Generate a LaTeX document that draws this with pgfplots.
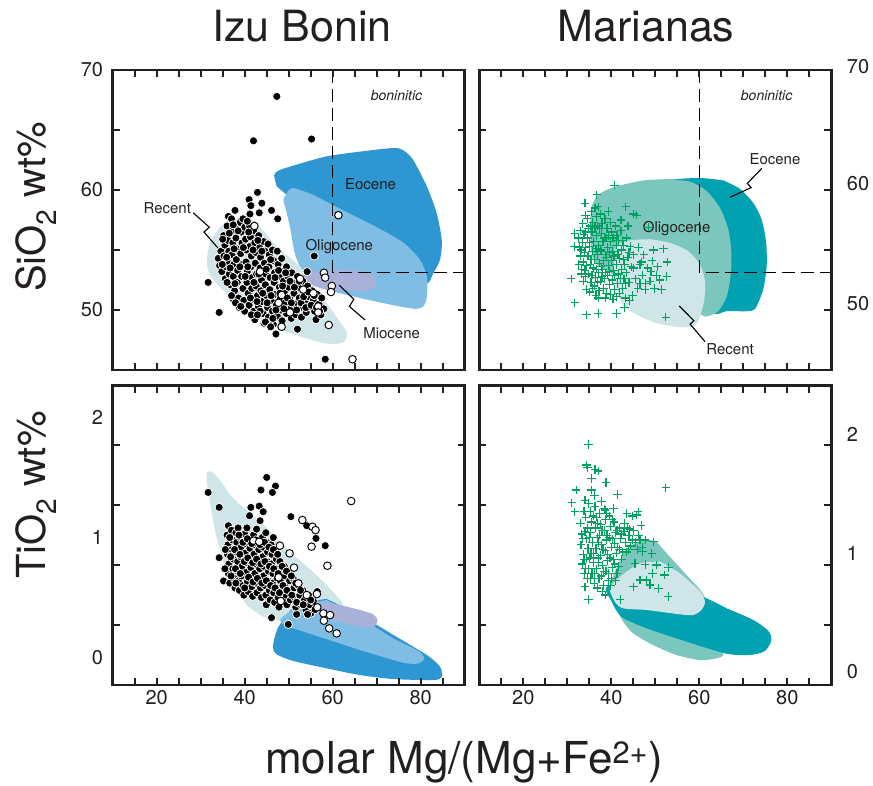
\documentclass[border=0pt]{standalone}
\usepackage{fontspec}
\setmainfont{TeX Gyre Heros}
\usepackage{pgfplots}
\pgfplotsset{compat=1.18}
\definecolor{recentc}{RGB}{207,229,232}
\definecolor{ibeoc}{RGB}{46,151,209}
\definecolor{iboligo}{RGB}{127,189,228}
\definecolor{miocc}{RGB}{169,177,217}
\definecolor{mreoc}{RGB}{0,162,177}
\definecolor{mroligo}{RGB}{124,199,189}
\definecolor{crossc}{RGB}{0,160,96}
\definecolor{txt}{RGB}{35,31,32}
\newcommand\tickfont{\fontsize{20}{20}\selectfont}
\newcommand\annfont{\fontsize{15}{15}\selectfont}
\newcommand\bonfont{\fontsize{14}{14}\selectfont\itshape}
\pgfplotsset{
  panel/.style={scale only axis, width=352pt, anchor=north west,
    xmin=10, xmax=90, axis on top, clip=false,
    axis line style={line width=2.6pt, color=txt},
    tick align=inside, major tick length=7pt,
    tick style={line width=1.8pt, color=txt},
    xtick={15,20,...,85},
    tick label style={font=\tickfont, text=txt},
    /pgf/number format/assume math mode=true},
  toppanel/.style={panel, height=300pt, ymin=45, ymax=70, xticklabels={},
    ytick={50,55,60,65,70}},
  botpanel/.style={panel, height=299.5pt, ymin=-0.229, ymax=2.267,
    xticklabels={,20,,,,40,,,,60,,,,80,},
    xticklabel style={inner sep=0pt, yshift=-5pt},
    ytick={0.27,0.77,1.27,1.77}, yticklabels={}},
  region/.style={draw=none, fill=#1, smooth, tension=0.45},
  leader/.style={black, line width=1.1pt, mark=none},
  fdot/.style={only marks, color=black, mark=*, mark size=4.1pt, mark options={fill=black, draw=white, line width=0.75pt}},
  odot/.style={only marks, color=black, mark=*, mark size=3.8pt, mark options={fill=white, draw=black, line width=0.95pt}},
  crs/.style={only marks, color=crossc, mark=+, mark size=4.2pt, mark options={draw=crossc, line width=1.2pt}},
  bline/.style={black, line width=1.1pt, dash pattern=on 13pt off 6pt, mark=none},
}
\begin{document}
\begin{tikzpicture}
\useasboundingbox (0,0) rectangle (873pt,-785pt);
\node[font=\fontsize{43}{43}\selectfont, text=txt, anchor=base] at (302pt,-41pt) {Izu Bonin};
\node[font=\fontsize{43}{43}\selectfont, text=txt, anchor=base] at (646pt,-41pt) {Marianas};
\node[font=\fontsize{40}{40}\selectfont, text=txt, anchor=base, rotate=90] at (45pt,-207pt) {SiO\textsubscript{2} wt\%};
\node[font=\fontsize{40}{40}\selectfont, text=txt, anchor=base, rotate=90] at (45pt,-495pt) {TiO\textsubscript{2} wt\%};
\node[font=\fontsize{44}{44}\selectfont, text=txt, anchor=base] at (464pt,-773pt) {molar Mg/(Mg+Fe\textsuperscript{2+})};

% ---------------- top left: Izu Bonin SiO2
\begin{axis}[toppanel, at={(112.7pt,-70pt)}, yticklabels={50,,60,,70},
  yticklabel style={inner sep=0pt, xshift=-9.5pt}]
\addplot[region=ibeoc] coordinates {(47.3,60.3)(46.7,61.25)(48.0,61.67)(52.6,62.2)(58.6,62.8)(66.2,63.2)(73.8,63.5)(76.1,63.3)(78.3,62.5)(81.4,60.3)(83.6,58.1)(84.8,55.8)(84.4,54.2)(82.9,53.1)(81.0,52.2)(73.8,54.2)(58.6,57.8)(51.1,59.2)(47.3,60.3)} -- cycle;
\addplot[region=iboligo] coordinates {(55.6,59.6)(62.4,58.3)(70.0,56.9)(76.1,55.6)(79.8,54.2)(81.4,52.8)(81.4,51.1)(80.6,50.3)(78.7,50.1)(73.8,50.4)(66.2,51.0)(58.6,51.7)(54.8,52.4)(53.0,53.3)(51.4,54.7)(50.3,56.9)(49.2,58.6)(48.8,59.2)(50.3,60.1)(51.8,60.1)(55.6,59.6)} -- cycle;
\addplot[region=recentc] coordinates {(38.9,57.7)(42.0,57.5)(47.3,55.3)(52.6,53.6)(57.1,51.4)(60.9,49.4)(63.2,48.1)(62.4,47.3)(58.6,47.2)(52.6,47.8)(46.5,48.6)(40.5,50.0)(35.9,51.4)(32.9,52.5)(31.7,53.3)(31.4,54.2)(32.1,55.6)(34.4,56.9)(36.7,57.6)(38.9,57.7)} -- cycle;
\addplot[region=miocc] coordinates {(57.1,53.3)(64.7,53.3)(68.5,53.06)(69.8,52.5)(69.2,51.8)(67.0,51.6)(58.6,51.7)(54.8,52.2)(53.3,52.6)(53.7,53.06)(57.1,53.3)} -- cycle;
\addplot[bline] coordinates {(60,70)(60,53.1)(90,53.1)};
\addplot[leader] coordinates {(28.3,58.1)(31.95,56.9)(30.75,56.5)(34.55,54.9)};
\addplot[leader] coordinates {(61.5,52.06)(64.8,50.9)(63.8,50.3)(67.35,49.17)};
\node[font=\bonfont, text=txt] at (axis cs:74.5,67.9) {boninitic};
\node[font=\annfont, text=txt] at (axis cs:68.6,60.5) {Eocene};
\node[font=\annfont, text=txt] at (axis cs:61.5,55.3) {Oligocene};
\node[font=\annfont, text=txt] at (axis cs:73.4,48.1) {Miocene};
\node[font=\annfont, text=txt] at (axis cs:22.4,58.5) {Recent};
\addplot[fdot] coordinates {
(47.3,67.8)(42.0,64.1)(55.2,64.25)(42.9,59.8)(43.9,58.9)(41.0,59.2)(41.4,58.7)(46.1,58.3)(47.5,57.6)(43.3,58.1)(41.2,58.0)(55.8,54.5)(54.2,53.2)(31.7,52.3)(34.2,49.8)(37.4,50.9)(52.0,48.4)(58.3,45.9)(47.1,48.0)(37.8,58.3)(36.3,57.8)
(34.0,54.3)(34.3,53.7)(34.6,54.9)(34.8,53.2)
(35.2,56.2)(35.5,55.4)(35.3,54.5)(35.8,53.6)(35.6,52.6)(36.0,57.0)(36.2,55.8)(36.4,54.9)(36.1,54.0)(36.5,53.0)(36.8,52.1)
(37.0,57.6)(37.2,56.6)(37.3,55.6)(37.1,54.6)(37.5,53.8)(37.4,52.8)(37.7,51.6)(37.9,57.1)(38.0,56.0)(38.2,55.1)(38.1,54.2)(38.4,53.3)(38.3,52.3)(38.6,51.0)(38.8,50.2)
(39.0,57.3)(39.2,56.5)(39.4,55.6)(39.1,54.7)(39.5,53.8)(39.3,52.8)(39.6,51.8)(39.8,50.8)(40.0,49.9)(40.0,56.9)(40.2,55.9)(40.4,55.0)(40.3,54.0)(40.6,53.2)(40.5,52.3)(40.8,51.4)(41.0,50.4)
(41.1,57.0)(41.3,56.1)(41.2,55.3)(41.5,54.5)(41.4,53.6)(41.7,52.7)(41.6,51.8)(41.9,50.9)(42.1,49.9)(42.3,49.2)(42.0,56.6)(42.3,55.6)(42.5,54.8)(42.4,53.9)(42.7,53.0)(42.6,52.0)(42.9,51.2)(43.1,50.3)
(43.2,56.2)(43.4,55.2)(43.6,54.4)(43.5,53.5)(43.8,52.5)(43.7,51.6)(44.0,50.7)(44.2,49.7)(44.4,48.9)(44.3,55.7)(44.6,54.9)(44.5,53.9)(44.8,53.0)(44.7,52.1)(45.0,51.2)(45.2,50.2)(45.4,49.4)
(45.3,55.5)(45.6,54.6)(45.5,53.6)(45.8,52.7)(45.7,51.7)(46.0,50.8)(46.3,49.9)(46.5,48.8)(46.3,55.0)(46.6,54.1)(46.8,53.1)(46.7,52.3)(47.0,51.3)(47.2,50.4)(47.4,49.5)
(47.4,54.9)(47.6,53.8)(47.8,52.8)(47.9,51.9)(48.1,51.0)(48.3,50.0)(48.5,49.1)(48.4,54.3)(48.7,53.3)(48.8,52.4)(49.0,51.5)(49.2,50.6)(49.5,49.7)
(49.5,53.6)(49.8,52.8)(50.0,51.9)(50.2,51.0)(50.4,50.1)(50.6,49.3)(50.7,53.1)(51.0,52.3)(51.2,51.4)(51.4,50.5)(51.6,49.6)
(52.0,52.8)(52.2,51.9)(52.4,51.0)(52.7,50.2)(52.9,49.4)(53.2,52.4)(53.5,51.5)(53.7,50.7)(54.0,49.8)(54.3,52.0)(54.6,51.1)(54.8,50.3)
(55.3,51.6)(55.6,50.8)(55.9,49.9)(56.2,49.2)(56.5,51.3)(56.9,50.5)(57.3,49.6)(57.5,51.0)(58.0,50.1)
(35.0,55.9)(35.9,54.4)(36.7,53.5)(37.6,55.1)(37.8,52.2)(38.5,56.6)(38.9,53.6)(39.2,50.3)(39.7,55.2)(40.1,52.8)(40.9,56.5)(40.7,53.6)(41.3,51.0)(41.9,55.0)(42.1,52.3)(42.8,50.7)(43.0,55.8)(43.2,53.0)(43.5,49.9)(43.9,54.9)(44.1,51.4)(44.9,53.4)(45.1,50.6)(45.9,54.2)(46.0,51.2)(46.4,49.3)(46.9,52.7)(47.1,50.0)(47.7,53.3)(48.0,51.4)(48.6,52.0)(48.9,50.1)(49.3,53.1)(49.7,51.0)(50.3,52.4)(50.6,50.6)(51.3,51.9)(51.8,50.0)(52.4,52.4)(52.8,50.6)(53.4,51.1)(53.9,50.2)(54.5,51.5)(55.1,50.4)(55.8,51.2)(56.3,50.2)(57.0,49.9)(36.5,56.4)(37.4,57.1)(39.6,57.6)(40.6,57.4)(34.9,53.8)(36.0,52.3)(37.0,51.2)(37.9,50.6)(39.1,50.3)(41.5,49.6)(42.9,49.6)(44.7,49.0)(45.9,48.6)};
\addplot[odot] coordinates {(61.3,57.9)(42.2,57.0)(58.0,53.1)(58.3,52.7)(52.6,52.6)(59.8,52.0)(59.6,51.5)(53.3,51.7)(48.4,51.25)(55.6,51.4)(56.7,50.3)(56.7,49.8)(50.3,49.8)(48.4,48.6)(59.1,48.75)(64.5,45.9)(43.5,53.2)(47.7,50.6)};
\end{axis}

% ---------------- top right: Marianas SiO2
\begin{axis}[toppanel, at={(479.3pt,-70pt)}, yticklabels={}]
\addplot[region=mreoc] coordinates {(65.5,60.8)(69.2,60.1)(72.3,58.9)(74.2,57.5)(75.2,55.6)(75.3,53.6)(74.5,51.7)(72.7,50.1)(70.8,49.9)(66.2,49.9)(63.2,49.7)(58.6,51.4)(54.8,58.3)(49.5,60.6)(54.8,60.9)(60.2,61.0)(65.5,60.8)} -- cycle;
\addplot[region=mroligo] coordinates {(52.6,60.9)(57.9,60.7)(61.7,59.9)(64.7,58.5)(66.6,56.7)(67.3,54.7)(67.1,52.8)(66.2,51.1)(64.3,49.9)(62.0,49.5)(60.5,49.6)(51.1,51.4)(39.7,53.1)(35.9,54.2)(35.2,56.4)(35.5,58.6)(37.4,59.7)(41.2,60.3)(47.3,60.8)(52.6,60.9)} -- cycle;
\addplot[region=recentc] coordinates {(48.8,55.9)(53.3,55.6)(57.5,54.9)(60.2,53.75)(61.3,52.4)(61.1,50.8)(60.0,49.3)(58.6,48.6)(54.8,48.6)(50.3,48.9)(45.8,49.6)(42.7,50.4)(41.2,51.7)(40.6,53.6)(41.2,55.3)(44.2,55.8)(48.8,55.9)} -- cycle;
\addplot[bline] coordinates {(60,70)(60,53.1)(90,53.1)};
\addplot[leader] coordinates {(74.2,61.8)(70.9,60.55)(71.8,60.2)(67.0,59.4)};
\addplot[leader] coordinates {(55.45,50.33)(58.8,49.1)(57.9,48.83)(61.3,47.36)};
\node[font=\bonfont, text=txt] at (axis cs:75.3,67.9) {boninitic};
\node[font=\annfont, text=txt] at (axis cs:77.2,62.6) {Eocene};
\node[font=\annfont, text=txt] at (axis cs:54.85,56.8) {Oligocene};
\node[font=\annfont, text=txt] at (axis cs:67.0,46.7) {Recent};
\node[font=\tickfont, text=txt, anchor=west, inner sep=0pt, xshift=15.5pt] at (axis cs:90,70.3) {70};
\node[font=\tickfont, text=txt, anchor=west, inner sep=0pt, xshift=15.5pt] at (axis cs:90,60.5) {60};
\node[font=\tickfont, text=txt, anchor=west, inner sep=0pt, xshift=15.5pt] at (axis cs:90,50.55) {50};
\addplot[crs] coordinates {
(40.7,60.4)(36.7,59.6)(34.0,58.9)(43.3,58.6)(45.0,58.0)(45.7,57.9)(31.7,56.4)(31.6,55.3)(30.9,52.6)(31.7,50.6)(34.4,49.6)(37.0,49.7)(41.2,49.7)(52.4,49.4)(52.7,54.0)(51.9,55.1)(49.6,55.0)(52.6,52.8)(51.4,51.7)(47.7,51.7)(44.2,50.8)(45.0,54.6)(48.4,56.9)(46.9,54.0)(49.0,53.2)(50.3,52.9)(46.5,52.2)
(32.5,56.0)(32.8,55.2)(33.0,54.5)(32.6,53.8)(33.2,53.0)(33.5,57.2)(33.8,56.3)(33.4,55.6)(33.9,54.8)(33.6,54.0)(34.0,53.3)(33.7,52.4)(34.3,51.7)
(34.5,57.6)(34.8,56.8)(34.6,56.0)(35.0,55.3)(34.7,54.5)(35.2,53.8)(34.9,53.0)(35.4,52.3)(35.1,51.5)(35.5,58.2)(35.8,57.3)(35.6,56.5)(36.0,55.7)(35.7,54.9)(36.2,54.2)(35.9,53.5)(36.4,52.7)(36.1,52.0)(36.5,51.2)
(36.6,57.8)(36.9,57.0)(36.7,56.2)(37.1,55.4)(36.8,54.6)(37.3,53.9)(37.0,53.1)(37.5,52.4)(37.2,51.6)(37.6,58.0)(37.9,57.2)(37.7,56.4)(38.1,55.7)(37.8,54.9)(38.3,54.1)(38.0,53.4)(38.5,52.6)(38.2,51.8)(38.6,51.0)
(38.7,57.6)(39.0,56.8)(38.8,56.0)(39.2,55.2)(38.9,54.4)(39.4,53.7)(39.1,52.9)(39.6,52.1)(39.8,57.3)(40.1,56.5)(39.9,55.7)(40.3,54.9)(40.0,54.1)(40.5,53.3)(40.2,52.5)(40.7,51.7)(40.4,50.9)
(41.0,57.0)(41.3,56.2)(41.1,55.4)(41.5,54.6)(41.2,53.8)(41.7,53.0)(41.4,52.2)(41.9,51.4)(42.2,56.6)(42.5,55.8)(42.3,55.0)(42.7,54.2)(42.4,53.4)(42.9,52.6)(42.6,51.8)(43.2,51.0)(43.5,56.0)(43.8,54.4)(43.4,53.1)(44.0,52.3)(44.3,55.3)
(45.0,53.5)(45.5,52.6)(46.0,51.8)(46.5,53.8)(47.0,52.9)(47.4,54.6)(47.8,52.2)(48.3,53.5)(48.8,52.4)(49.3,54.1)(49.8,51.8)(50.5,53.6)(51.0,52.5)(46.2,55.2)(44.8,51.2)(43.0,50.2)
(33.0,56.6)(33.1,55.0)(33.3,53.4)(34.1,57.9)(34.2,56.5)(34.1,55.2)(34.4,53.7)(34.2,52.8)(35.3,57.0)(35.1,55.6)(35.4,54.2)(35.6,52.9)(35.8,51.8)(36.3,58.5)(36.3,56.9)(36.5,55.1)(36.6,53.4)(36.9,52.3)(37.0,51.0)(37.4,56.8)(37.5,55.0)(37.7,53.6)(37.9,52.8)(38.4,57.6)(38.4,56.0)(38.6,54.6)(38.7,53.1)(38.9,51.4)(39.4,56.2)(39.5,54.8)(39.6,53.2)(39.9,51.3)(40.4,56.0)(40.6,54.5)(40.8,52.9)(41.2,51.1)(41.6,55.8)(41.8,54.3)(42.0,52.6)(42.8,55.4)(43.0,53.8)(43.3,52.2)(44.0,54.8)(44.5,53.6)(43.8,57.0)(42.2,57.5)(39.3,58.2)(37.0,58.6)};
\end{axis}

% ---------------- bottom left: Izu Bonin TiO2
\begin{axis}[botpanel, at={(112.7pt,-385.5pt)},
  extra y ticks={0,1,2}, extra y tick labels={0,1,2},
  extra y tick style={major tick length=0pt, yticklabel style={inner sep=0pt, xshift=-9.5pt}}]
\addplot[region=recentc] coordinates {(31.4,1.549)(32.5,1.549)(34.4,1.479)(37.4,1.326)(43.5,1.132)(50.3,0.882)(57.1,0.660)(62.4,0.438)(58.6,0.382)(51.1,0.304)(46.5,0.313)(44.2,0.340)(40.5,0.438)(37.4,0.604)(35.2,0.799)(33.3,1.049)(32.1,1.299)(31.4,1.465)(31.4,1.549)} -- cycle;
\addplot[region=ibeoc] coordinates {(58.6,0.488)(66.2,0.354)(73.8,0.188)(81.4,0.021)(84.4,-0.076)(84.8,-0.160)(82.9,-0.188)(73.8,-0.179)(66.2,-0.146)(58.6,-0.090)(51.1,-0.029)(47.3,0.026)(46.4,0.090)(47.7,0.257)(51.8,0.438)(58.6,0.488)} -- cycle;
\addplot[region=iboligo] coordinates {(58.6,0.479)(66.2,0.332)(73.8,0.160)(79.5,0.054)(80.8,-0.007)(79.5,-0.049)(76.8,-0.049)(73.8,-0.021)(66.2,0.063)(58.6,0.154)(51.1,0.243)(48.4,0.285)(48.4,0.332)(52.6,0.432)(58.6,0.479)} -- cycle;
\addplot[region=miocc] coordinates {(60.2,0.451)(66.2,0.396)(69.2,0.360)(70.2,0.313)(69.6,0.265)(67.7,0.251)(63.2,0.285)(58.6,0.326)(56.7,0.368)(57.1,0.451)(60.2,0.451)} -- cycle;
\addplot[fdot] coordinates {
(31.7,1.376)(34.2,1.251)(45.0,1.501)(43.7,1.396)(47.0,1.429)(46.3,1.376)(50.5,1.174)(54.1,1.099)(56.2,0.993)(58.3,0.932)(34.2,0.832)(35.2,0.638)(49.9,0.276)(51.8,0.360)(46.1,0.332)(41.1,1.182)(41.4,1.251)(43.3,1.262)(44.2,1.215)(43.5,1.140)(36.3,1.099)
(36.0,1.02)(36.2,0.94)(36.1,0.86)(36.4,0.78)(36.3,0.70)(36.6,0.62)(37.0,1.06)(37.2,0.98)(37.1,0.90)(37.4,0.82)(37.3,0.74)(37.6,0.66)(37.8,0.58)
(38.0,1.04)(38.2,0.96)(38.1,0.88)(38.4,0.80)(38.3,0.72)(38.6,0.64)(38.8,0.56)(39.0,1.00)(39.2,0.92)(39.1,0.84)(39.4,0.76)(39.3,0.68)(39.6,0.60)(39.8,0.52)
(40.0,1.03)(40.2,0.95)(40.1,0.87)(40.4,0.79)(40.3,0.71)(40.6,0.63)(40.8,0.55)(41.0,0.99)(41.2,0.91)(41.1,0.83)(41.4,0.75)(41.3,0.67)(41.6,0.59)(41.8,0.51)
(42.0,1.02)(42.2,0.94)(42.1,0.86)(42.4,0.78)(42.3,0.70)(42.6,0.62)(42.8,0.54)(43.0,0.98)(43.2,0.90)(43.1,0.82)(43.4,0.74)(43.3,0.66)(43.6,0.58)(43.8,0.50)
(44.0,1.00)(44.2,0.92)(44.1,0.84)(44.4,0.76)(44.3,0.68)(44.6,0.60)(44.8,0.52)(44.9,0.44)(45.0,0.96)(45.2,0.88)(45.1,0.80)(45.4,0.72)(45.3,0.64)(45.6,0.56)(45.8,0.48)
(46.0,0.94)(46.2,0.86)(46.1,0.78)(46.4,0.70)(46.3,0.62)(46.6,0.54)(46.8,0.46)(47.0,0.90)(47.2,0.82)(47.1,0.74)(47.4,0.66)(47.3,0.58)(47.6,0.50)(47.8,0.42)
(48.0,0.80)(48.2,0.72)(48.1,0.64)(48.4,0.56)(48.6,0.48)(49.0,0.76)(49.2,0.68)(49.1,0.60)(49.4,0.52)(49.6,0.44)
(50.0,0.72)(50.2,0.64)(50.1,0.56)(50.4,0.48)(51.0,0.66)(51.2,0.58)(51.4,0.50)(51.6,0.42)
(52.2,0.60)(52.5,0.52)(52.8,0.44)(53.2,0.56)(53.6,0.48)(53.9,0.40)(54.5,0.52)(54.8,0.44)(55.1,0.37)(55.6,0.47)(56.0,0.40)(56.5,0.55)
(38.5,1.08)(40.5,1.08)(42.7,1.07)(44.8,1.04)(46.5,1.00)
(36.6,1.00)(36.8,0.84)(36.9,0.68)(37.7,0.90)(37.9,0.74)(38.0,0.62)(38.7,1.02)(38.9,0.86)(39.0,0.70)(39.6,0.96)(39.9,0.80)(40.0,0.58)(40.6,0.99)(40.7,0.83)(40.9,0.67)(41.6,0.95)(41.8,0.79)(41.9,0.63)(42.5,0.98)(42.7,0.82)(42.9,0.66)(43.5,0.94)(43.7,0.78)(43.9,0.62)(44.5,0.96)(44.6,0.80)(44.9,0.64)(45.5,0.92)(45.6,0.76)(45.9,0.60)(46.5,0.90)(46.6,0.74)(46.9,0.58)(47.5,0.86)(47.6,0.70)(47.9,0.54)(48.5,0.76)(48.7,0.60)(49.5,0.72)(49.6,0.56)(50.6,0.68)(50.7,0.52)(51.6,0.62)(51.8,0.46)(52.7,0.56)(53.3,0.44)(54.0,0.52)(54.3,0.36)(55.0,0.48)(35.6,0.90)(35.5,0.74)};
\addplot[odot] coordinates {(64.2,1.304)(53.1,1.146)(55.4,1.090)(56.1,1.062)(55.2,0.924)(58.8,0.765)(50.2,0.868)(51.2,0.749)(48.0,0.932)(52.2,0.618)(54.1,0.521)(56.4,0.529)(56.5,0.418)(57.9,0.368)(59.4,0.354)(58.0,0.307)(59.2,0.243)(60.9,0.201)(47.7,0.668)(48.2,0.471)(42.0,0.974)(43.3,0.965)};
\end{axis}

% ---------------- bottom right: Marianas TiO2
\begin{axis}[botpanel, at={(479.3pt,-385.5pt)}]
\addplot[region=mroligo] coordinates {(50.3,0.965)(53.3,0.840)(57.1,0.688)(60.2,0.563)(61.7,0.465)(63.2,0.243)(65.5,0.035)(63.9,-0.007)(60.2,-0.021)(54.8,0.021)(49.5,0.104)(45.0,0.201)(42.7,0.299)(40.8,0.438)(39.7,0.576)(40.5,0.688)(43.5,0.910)(48.0,0.979)(50.3,0.965)} -- cycle;
\addplot[region=mreoc] coordinates {(66.2,0.410)(72.3,0.313)(75.7,0.221)(76.4,0.146)(74.9,0.054)(71.5,0.021)(66.2,0.032)(58.6,0.115)(48.0,0.244)(42.3,0.340)(40.1,0.465)(38.9,0.590)(45.8,0.632)(54.8,0.576)(61.3,0.499)(66.2,0.410)} -- cycle;
\addplot[region=recentc] coordinates {(51.1,0.799)(55.6,0.701)(60.2,0.549)(61.3,0.465)(60.5,0.396)(58.6,0.354)(55.6,0.360)(48.0,0.396)(42.7,0.410)(40.8,0.465)(39.7,0.576)(42.0,0.674)(46.5,0.785)(51.1,0.799)} -- cycle;
\node[font=\tickfont, text=txt, anchor=west, inner sep=0pt, xshift=15.5pt] at (axis cs:90,1.86) {2};
\node[font=\tickfont, text=txt, anchor=west, inner sep=0pt, xshift=15.5pt] at (axis cs:90,0.87) {1};
\node[font=\tickfont, text=txt, anchor=west, inner sep=0pt, xshift=15.5pt] at (axis cs:90,-0.12) {0};
\addplot[crs] coordinates {
(34.8,1.776)(34.4,1.604)(34.6,1.582)(36.3,1.568)(37.0,1.554)(35.5,1.493)(38.8,1.460)(32.0,1.396)(35.5,1.396)(41.4,1.360)(52.4,1.415)(31.0,1.290)(31.7,1.215)(34.0,1.312)(34.8,1.285)(40.5,1.243)(38.6,1.229)(43.5,1.201)(44.8,1.179)(46.1,1.215)(45.7,1.188)
(34.8,0.485)(34.0,0.590)(38.6,0.521)(42.0,0.485)(52.95,0.507)(45.0,0.590)(46.5,0.646)(48.0,0.646)(48.8,0.604)(50.7,0.576)(49.4,0.701)(52.1,0.688)(53.0,0.749)(50.3,0.771)(47.7,0.776)(45.4,0.785)(49.2,0.868)(47.1,0.882)(49.6,0.965)(47.7,0.979)(44.2,1.071)(46.5,0.979)
(33.0,1.12)(33.3,1.03)(33.1,0.94)(33.6,0.86)(33.4,0.78)(33.9,0.70)(34.2,1.17)(34.5,1.08)(34.3,0.99)(34.7,0.91)(34.4,0.82)(34.9,0.74)(34.6,0.66)
(35.2,1.22)(35.5,1.13)(35.3,1.04)(35.7,0.96)(35.4,0.87)(35.9,0.79)(35.6,0.70)(36.1,0.62)(36.3,1.26)(36.6,1.17)(36.4,1.08)(36.8,1.00)(36.5,0.91)(37.0,0.83)(36.7,0.74)(37.2,0.66)
(37.3,1.20)(37.6,1.11)(37.4,1.02)(37.8,0.94)(37.5,0.85)(38.0,0.77)(37.7,0.68)(38.2,0.60)(38.4,1.24)(38.7,1.15)(38.5,1.06)(38.9,0.98)(38.6,0.89)(39.1,0.81)(38.8,0.72)(39.3,0.64)
(39.5,1.18)(39.8,1.09)(39.6,1.00)(40.0,0.92)(39.7,0.83)(40.2,0.75)(40.0,0.66)(40.6,1.13)(40.9,1.04)(40.7,0.95)(41.1,0.87)(40.8,0.78)(41.3,0.70)(41.8,1.08)(42.1,0.99)(41.9,0.90)(42.3,0.82)
(42.9,1.05)(43.2,0.96)(43.5,0.88)(43.0,1.12)(44.0,1.02)(44.4,0.93)(45.0,1.06)(45.5,0.96)(46.2,1.02)(47.0,0.92)(46.8,1.10)
(33.5,0.99)(33.8,0.82)(34.0,1.05)(34.1,0.74)(35.0,1.00)(35.1,0.83)(35.3,0.66)(35.9,1.18)(36.0,0.87)(36.2,0.70)(36.9,1.12)(37.0,0.96)(37.1,0.79)(37.9,1.06)(38.1,0.90)(38.3,0.72)(38.9,1.20)(39.0,1.02)(39.2,0.86)(39.4,0.70)(40.2,1.15)(40.3,0.99)(40.5,0.82)(41.3,1.06)(41.4,0.92)(41.6,0.76)(42.4,1.03)(42.6,0.88)(43.6,1.08)(43.9,0.90)(44.8,0.98)(45.9,0.90)(37.8,1.30)(36.2,1.35)(33.8,1.22)(38.0,0.55)(36.8,0.58)(39.9,0.60)(41.0,0.64)};
\end{axis}
\end{tikzpicture}
\end{document}
